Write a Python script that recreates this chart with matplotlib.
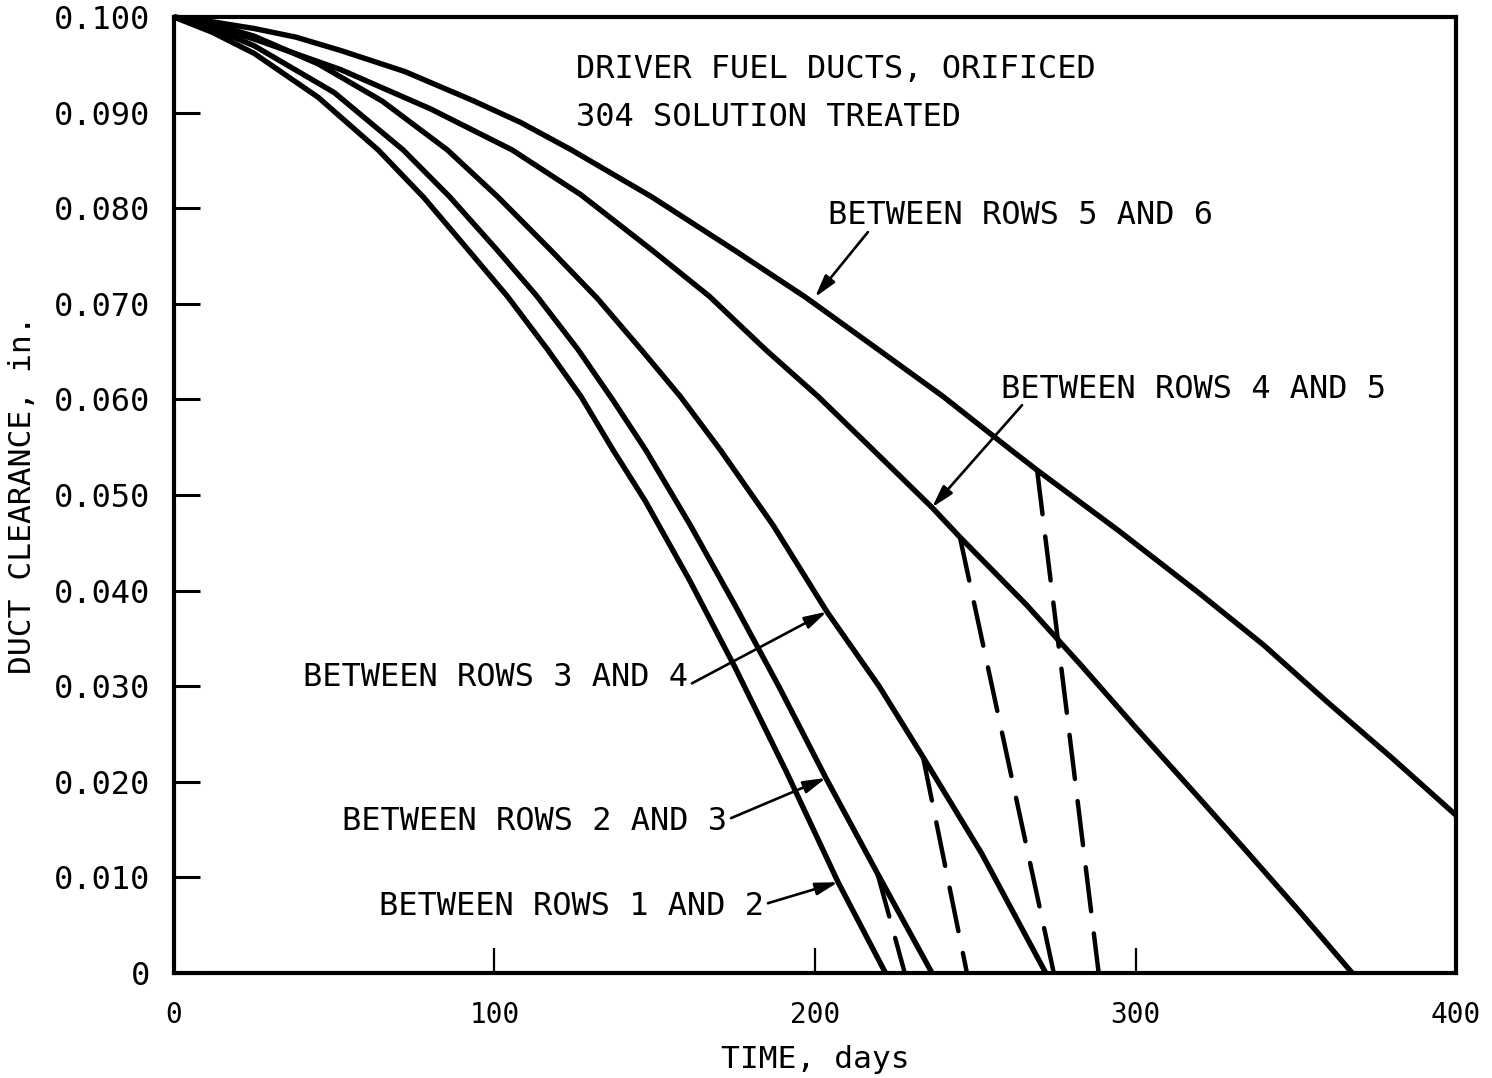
import matplotlib

matplotlib.use("Agg")
import matplotlib.pyplot as plt

# duct clearance (in.) vs time (days)
days_12 = [0, 12, 25, 45, 63.7, 78, 91.9, 104, 116.6, 127, 137.0, 147.0, 161, 175.0, 191, 207.2, 222.0]
gap_12 = [0.100, 0.0984, 0.0962, 0.0916, 0.0861, 0.0811, 0.0756, 0.0708, 0.0652, 0.0603,
          0.0547, 0.0494, 0.0410, 0.0320, 0.0211, 0.0095, 0.0]

days_23 = [0, 12, 25, 50, 71.5, 86, 100.9, 113, 126.1, 137, 147.2, 161, 175.0, 189, 203.4, 220, 236.5]
gap_23 = [0.100, 0.0988, 0.0970, 0.0921, 0.0861, 0.0812, 0.0756, 0.0709, 0.0652, 0.0599,
          0.0547, 0.0469, 0.0385, 0.0298, 0.0204, 0.0101, 0.0]

days_34 = [0, 12, 25, 45, 65, 85.3, 101, 117.6, 132, 145.8, 158, 170.5, 187, 203.7, 220.0,
           233.7, 252.0, 272.0]
gap_34 = [0.100, 0.0993, 0.0980, 0.0951, 0.0912, 0.0861, 0.0812, 0.0756, 0.0706, 0.0652,
          0.0603, 0.0547, 0.0468, 0.0378, 0.0300, 0.0226, 0.0125, 0.0]

days_45 = [0, 12, 25, 52, 80, 105.5, 127, 149.2, 167, 184.6, 201, 218.2, 236.5, 245.2, 266.0,
           283, 300.0, 318, 335.0, 351, 367.6]
gap_45 = [0.100, 0.0990, 0.0977, 0.0945, 0.0904, 0.0861, 0.0814, 0.0756, 0.0708, 0.0652,
          0.0603, 0.0547, 0.0487, 0.0456, 0.0385, 0.0322, 0.0257, 0.0190, 0.0126, 0.0065, 0.0]

days_56 = [0, 12, 25, 38, 52, 72, 93.0, 108, 124.0, 149, 174.9, 197, 219.8, 240, 261.2, 269.3,
           295, 320.0, 340, 360.0, 380, 400.0]
gap_56 = [0.100, 0.0995, 0.0988, 0.0979, 0.0965, 0.0943, 0.0913, 0.0890, 0.0861, 0.0812,
          0.0756, 0.0707, 0.0652, 0.0603, 0.0547, 0.0526, 0.0462, 0.0397, 0.0343, 0.0283,
          0.0225, 0.0165]

# dashed transitions: (start day, end day) and (start gap, end gap)
dash_days = [(219.5, 228.0), (233.7, 247.4), (245.2, 274.5), (269.3, 288.5)]
dash_gaps = [(0.0104, 0.0), (0.0226, 0.0), (0.0456, 0.0), (0.0526, 0.0)]

labels = [
    "BETWEEN ROWS 1 AND 2",
    "BETWEEN ROWS 2 AND 3",
    "BETWEEN ROWS 3 AND 4",
    "BETWEEN ROWS 4 AND 5",
    "BETWEEN ROWS 5 AND 6",
]
x_ticks = [0, 100, 200, 300, 400]
y_ticks = [0, 0.01, 0.02, 0.03, 0.04, 0.05, 0.06, 0.07, 0.08, 0.09, 0.10]
y_tick_labels = ["0", "0.010", "0.020", "0.030", "0.040", "0.050",
                 "0.060", "0.070", "0.080", "0.090", "0.100"]

FONT = "DejaVu Sans Mono"
plt.rcParams["font.family"] = FONT

fig = plt.figure(figsize=(14.92, 10.78), dpi=100)
ax = fig.add_axes([0.1166, 0.0974, 0.9759 - 0.1166, 0.9842 - 0.0974])

for d, g in [(days_12, gap_12), (days_23, gap_23), (days_34, gap_34),
             (days_45, gap_45), (days_56, gap_56)]:
    ax.plot(d, g, color="black", lw=3.9, solid_capstyle="butt",
            solid_joinstyle="round", clip_on=False)

for d, g in zip(dash_days, dash_gaps):
    ax.plot(d, g, color="black", lw=3.2, linestyle=(0, (10, 5)), dash_capstyle="round")

ax.set_xlim(0, 400)
ax.set_ylim(0, 0.1)
ax.set_xticks(x_ticks)
ax.set_yticks(y_ticks)
ax.set_yticklabels(y_tick_labels)
ax.tick_params(axis="y", direction="in", length=19, width=2.2, pad=17, labelsize=23)
ax.tick_params(axis="x", direction="in", length=18, width=1.6, pad=20, labelsize=20)
for s in ax.spines.values():
    s.set_linewidth(3.0)

ax.set_xlabel("TIME, days", fontsize=22.5, labelpad=12)
ax.set_ylabel("DUCT CLEARANCE, in.", fontsize=22.5, labelpad=12)

txt = dict(fontsize=23, color="black")
ax.text(125.4, 0.0945, "DRIVER FUEL DUCTS, ORIFICED", ha="left", va="center", **txt)
ax.text(125.4, 0.0895, "304 SOLUTION TREATED", ha="left", va="center", **txt)

# label text anchors, arrow tails and arrow tips (data coords)
label_spots = [
    (184.0, 0.0070, "right"),
    (172.5, 0.0158, "right"),
    (160.4, 0.0309, "right"),
    (258.0, 0.0610, "left"),
    (204.0, 0.0792, "left"),
]
arrow_tails = [(185.3, 0.0073), (173.8, 0.0162), (161.6, 0.0303), (264.6, 0.0594), (216.5, 0.0775)]
arrow_tips = [(207.2, 0.0095), (203.4, 0.0204), (203.7, 0.0378), (236.5, 0.0487), (200.0, 0.0707)]

for lab, (tx, ty, ha), tail, tip in zip(labels, label_spots, arrow_tails, arrow_tips):
    ax.text(tx, ty, lab, ha=ha, va="center", **txt)
    ax.annotate("", xy=tip, xytext=tail,
                arrowprops=dict(arrowstyle="-|>,head_length=0.9,head_width=0.25",
                                color="black", lw=1.9, mutation_scale=15,
                                shrinkA=0, shrinkB=0))

fig.savefig("out.png", dpi=100)
